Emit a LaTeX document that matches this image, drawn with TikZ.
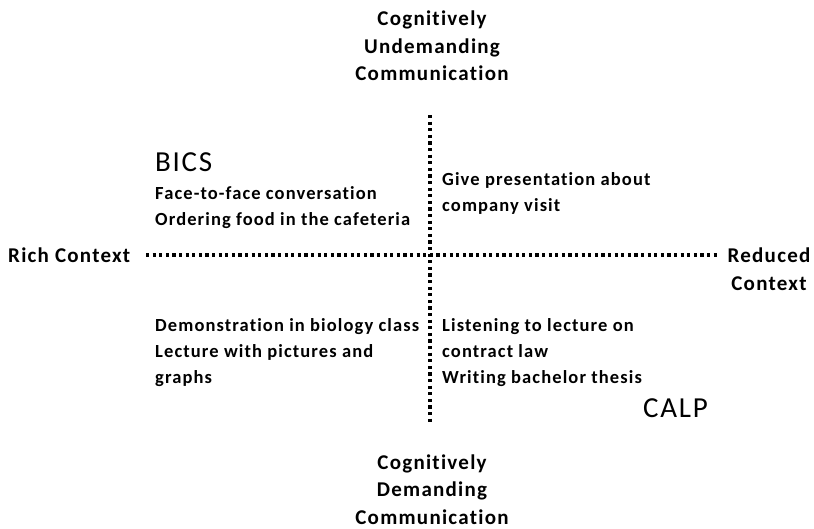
\documentclass[tikz,border=0pt]{standalone}
\usepackage{fontspec}
\setmainfont{Carlito}[LetterSpace=6, Ligatures=NoCommon]

\begin{document}
\begin{tikzpicture}[x=1pt,y=-1pt,
  lbl/.style={font=\bfseries\fontsize{18.5}{26}\selectfont, inner sep=0pt, align=left},
  head/.style={font=\bfseries\fontsize{21}{27.5}\selectfont, inner sep=0pt, align=center},
  big/.style={font=\fontsize{29}{32}\selectfont, inner sep=0pt},
  axis/.style={line width=3.2pt, dash pattern=on 3.2pt off 3.4pt}]
\useasboundingbox (0,0) rectangle (814,528);
% axis labels
\node[head] (undem) at (432,46) {Cognitively\\Undemanding\\Communication};
\node[head] (dem) at (432,489.5) {Cognitively\\Demanding\\Communication};
\node[head, anchor=west] (rich) at (8,255) {Rich Context};
\node[head] (reduced) at (769,269) {Reduced\\Context};
% the two axes
\coordinate (top) at (430,115);
\coordinate (bottom) at (430,425);
\coordinate (left) at (146,255);
\coordinate (right) at (718,255);
\draw[axis] (top) -- (bottom);
\draw[axis] (left) -- (right);
% quadrants
\node[big, anchor=west] (bics) at (155,162) {BICS};
\node[lbl, anchor=north west] (q1) at (155,186.5) {Face-to-face conversation\\Ordering food in the cafeteria};
\node[lbl, anchor=north west] (q2) at (442,172.5) {Give presentation about\\company visit};
\node[lbl, anchor=north west] (q3) at (155,318.5) {Demonstration in biology class\\Lecture with pictures and\\graphs};
\node[lbl, anchor=north west] (q4) at (442,318.5) {Listening to lecture on\\contract law\\Writing bachelor thesis};
\node[big, anchor=west] (calp) at (643,408) {CALP};
\end{tikzpicture}
\end{document}
